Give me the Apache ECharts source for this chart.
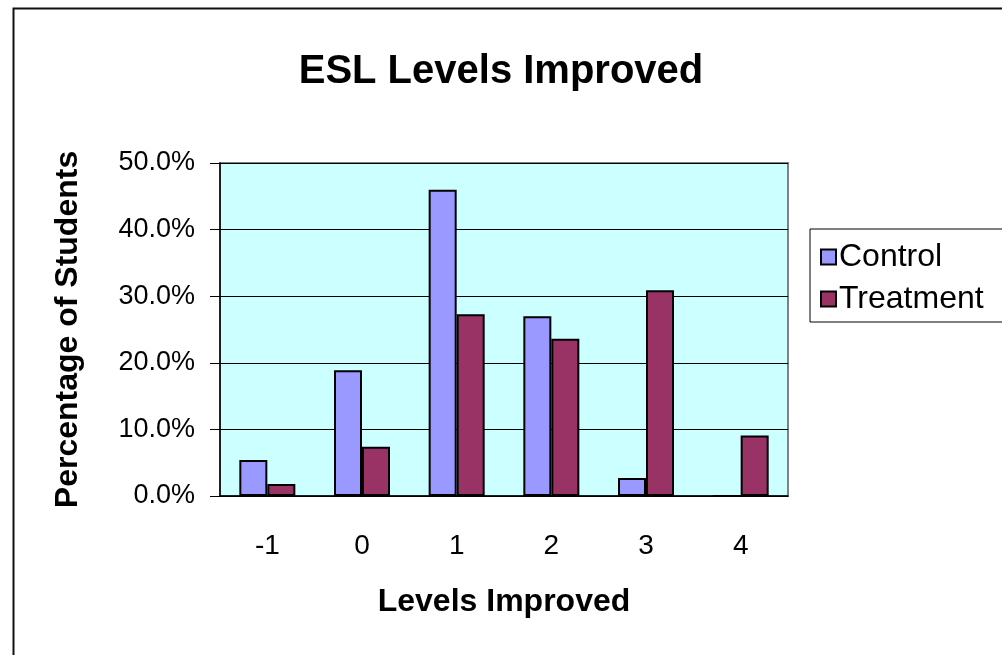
<!DOCTYPE html>
<html>
<head>
<meta charset="utf-8">
<script src="https://cdn.jsdelivr.net/npm/echarts@6/dist/echarts.min.js"></script>
<style>
  html, body { margin: 0; padding: 0; background: #fff; }
  #chart { width: 1002px; height: 655px; }
</style>
</head>
<body>
<div id="chart"></div>
<script>
// levels improved, percentages of students
const levels = ["-1", "0", "1", "2", "3", "4"];
const control = [5.4, 18.9, 46.0, 27.0, 2.7, 0];
const treatment = [1.8, 7.4, 27.3, 23.6, 30.9, 9.1];

const font = "Liberation Sans, Arial, sans-serif";
const chart = echarts.init(document.getElementById("chart"));

chart.setOption({
  animation: false,
  backgroundColor: "#fff",
  textStyle: { fontFamily: font },
  title: {
    text: "ESL Levels Improved",
    left: "center",
    top: 47,
    textStyle: { fontFamily: font, fontSize: 40, fontWeight: "bold", color: "#000" },
  },
  graphic: [
    {
      type: "rect",
      left: 11,
      top: 6,
      shape: { width: 1100, height: 700 },
      style: { fill: "none", stroke: "#111", lineWidth: 2 },
      silent: true,
    },
  ],
  legend: {
    left: 810,
    top: 229,
    orient: "vertical",
    itemWidth: 15,
    itemHeight: 15,
    itemGap: 8,
    padding: [11, 60, 6, 10],
    backgroundColor: "#fff",
    borderColor: "#000",
    borderWidth: 1,
    icon: "rect",
    itemStyle: { borderColor: "#000", borderWidth: 2 },
    textStyle: { fontFamily: font, fontSize: 32, lineHeight: 34, color: "#000", padding: [0, 0, 0, -2] },
  },
  grid: {
    left: 220,
    right: 214,
    top: 163,
    bottom: 159,
    show: true,
    backgroundColor: "#CCFFFF",
    borderColor: "#808080",
    borderWidth: 2,
  },
  xAxis: {
    type: "category",
    data: levels,
    name: "Levels Improved",
    nameLocation: "middle",
    nameGap: 90,
    nameTextStyle: { fontFamily: font, fontSize: 32, fontWeight: "bold", color: "#000" },
    axisLine: { lineStyle: { color: "#000", width: 1.5 } },
    axisTick: { length: 10, lineStyle: { color: "#000" } },
    axisLabel: { margin: 36, fontSize: 28, color: "#000", fontFamily: font },
  },
  yAxis: {
    type: "value",
    min: 0,
    max: 50,
    interval: 10,
    name: "Percentage of Students",
    nameLocation: "middle",
    nameGap: 136,
    nameTextStyle: { fontFamily: font, fontSize: 32, fontWeight: "bold", color: "#000" },
    axisLine: { show: true, lineStyle: { color: "#000", width: 1.5 } },
    axisTick: { show: true, length: 10, lineStyle: { color: "#000" } },
    axisLabel: {
      margin: 25,
      fontSize: 27,
      color: "#000",
      fontFamily: font,
      formatter: (v) => v.toFixed(1) + "%",
    },
    splitLine: { lineStyle: { color: "#000", width: 1 } },
  },
  series: [
    {
      name: "Control",
      type: "bar",
      data: control,
      barWidth: 28,
      barGap: "0%",
      itemStyle: { color: "#9999FF", borderColor: "#000", borderWidth: 2 },
    },
    {
      name: "Treatment",
      type: "bar",
      data: treatment,
      barWidth: 28,
      barGap: "0%",
      itemStyle: { color: "#993366", borderColor: "#000", borderWidth: 2 },
    },
  ],
});
</script>
</body>
</html>
